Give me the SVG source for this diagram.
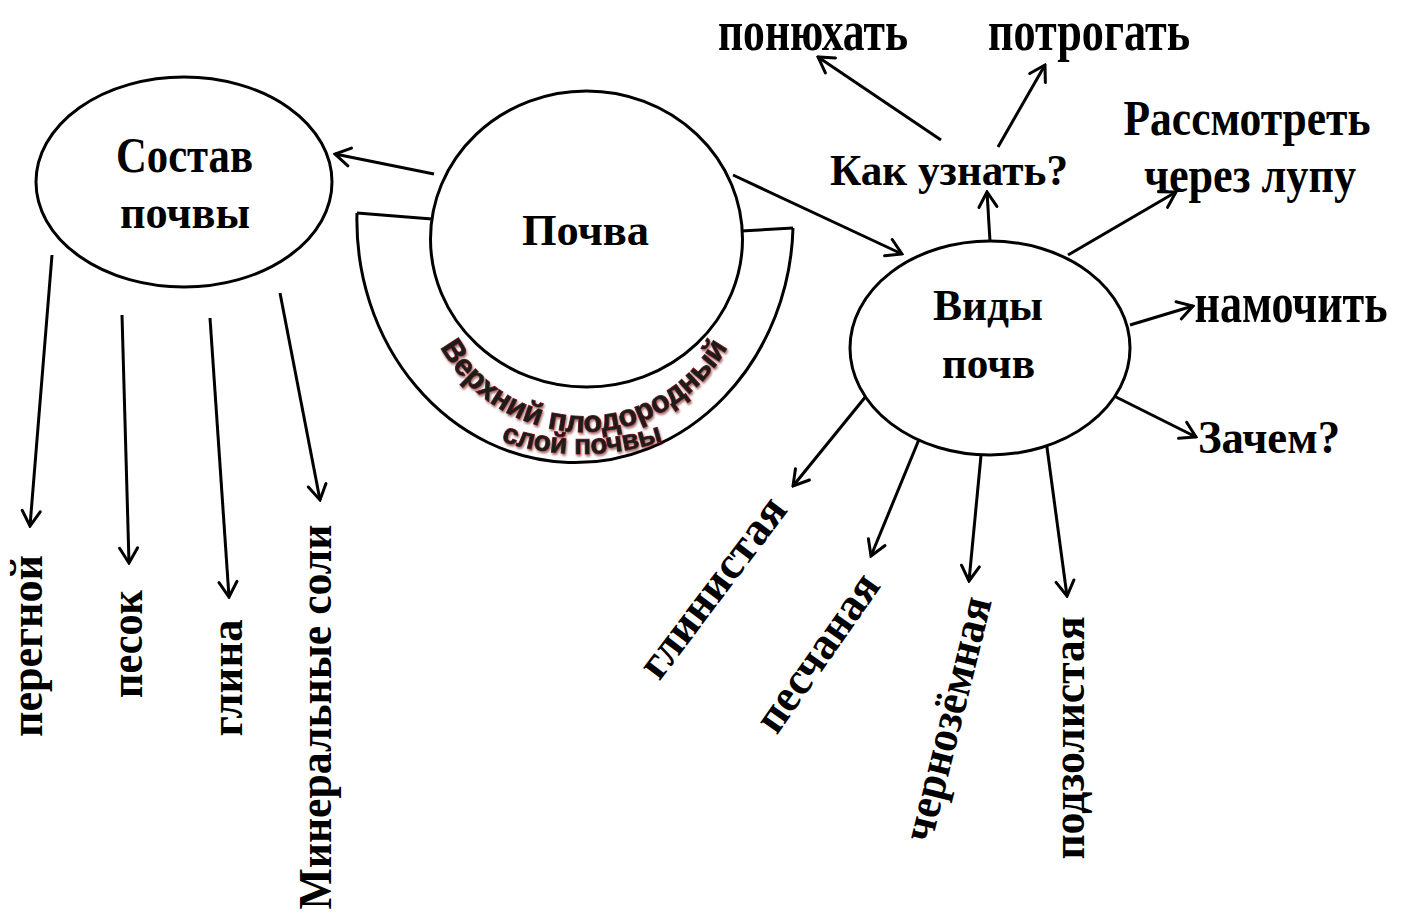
<svg xmlns="http://www.w3.org/2000/svg" width="1407" height="913" viewBox="0 0 1407 913">
<defs>
<style>
.ln{stroke:#000;stroke-width:3;fill:none;}
.ar{stroke:#000;stroke-width:3;fill:none;marker-end:url(#ah);}
.nd{stroke:#000;stroke-width:3;fill:#fff;}
.t{font-family:"Liberation Serif","Times New Roman",serif;font-weight:bold;fill:#000;text-anchor:middle;}
.w{font-family:"Liberation Sans",Arial,sans-serif;font-weight:bold;fill:#1e1e1e;stroke:#9a2020;stroke-width:1;paint-order:stroke;filter:url(#sh);}
</style>
<marker id="ah" viewBox="-18 -11 20 22" markerWidth="20" markerHeight="22" refX="0" refY="0" orient="auto" markerUnits="userSpaceOnUse">
<path d="M-15,-9 L0,0 L-15,9" fill="none" stroke="#000" stroke-width="3" stroke-linecap="round" stroke-linejoin="miter"/>
</marker>
<filter id="sh" x="-10%" y="-30%" width="120%" height="160%">
<feDropShadow dx="1" dy="2" stdDeviation="1.2" flood-color="#5a0000" flood-opacity="0.55"/>
</filter>
<path id="arc1" d="M420,268 A164,164 0 0 0 748,268"/>
<path id="arc2" d="M326,198 A256,256 0 0 0 838,198"/>
</defs>
<rect width="1407" height="913" fill="#fff"/>

<g id="connectors">
<line class="ar" x1="434" y1="174" x2="335" y2="154"/>
<line class="ar" x1="733" y1="175" x2="902" y2="254"/>
<line class="ar" x1="990" y1="241" x2="987" y2="192"/>
<line class="ar" x1="941" y1="140" x2="818" y2="57"/>
<line class="ar" x1="998" y1="147" x2="1045" y2="65"/>
<line class="ar" x1="1068" y1="255" x2="1176" y2="192"/>
<line class="ar" x1="1130" y1="325" x2="1193" y2="306"/>
<line class="ar" x1="1112" y1="395" x2="1196" y2="437"/>
<line class="ar" x1="871" y1="390" x2="793" y2="486"/>
<line class="ar" x1="920" y1="437" x2="871" y2="556"/>
<line class="ar" x1="982" y1="445" x2="969" y2="581"/>
<line class="ar" x1="1046" y1="440" x2="1067" y2="596"/>
<line class="ar" x1="52" y1="255" x2="30" y2="526"/>
<line class="ar" x1="122" y1="315" x2="129" y2="563"/>
<line class="ar" x1="210" y1="318" x2="229" y2="597"/>
<line class="ar" x1="280" y1="293" x2="320" y2="500"/>
</g>

<g id="layer">
<path class="ln" d="M357,213 A218,242 0 0 0 793,228"/>
<line class="ln" x1="357" y1="213" x2="432" y2="219"/>
<line class="ln" x1="741" y1="231" x2="793" y2="228"/>
<text class="w" font-size="30"><textPath href="#arc1" startOffset="50%" text-anchor="middle" textLength="350" lengthAdjust="spacingAndGlyphs">Верхний плодородный</textPath></text>
<text class="w" font-size="28"><textPath href="#arc2" startOffset="50%" text-anchor="middle" textLength="165" lengthAdjust="spacingAndGlyphs">слой почвы</textPath></text>
</g>

<g id="node-sostav">
<ellipse class="nd" cx="184" cy="182" rx="148" ry="105"/>
<text class="t" x="184.5" y="172" font-size="50" textLength="137" lengthAdjust="spacingAndGlyphs">Состав</text>
<text class="t" x="185" y="228" font-size="46" textLength="130" lengthAdjust="spacingAndGlyphs">почвы</text>
</g>

<g id="node-pochva">
<ellipse class="nd" cx="586.5" cy="239" rx="156" ry="148" fill="none"/>
<text class="t" x="585.5" y="245" font-size="44" textLength="127" lengthAdjust="spacingAndGlyphs">Почва</text>
</g>

<g id="node-vidy">
<ellipse class="nd" cx="990" cy="348" rx="140" ry="107"/>
<text class="t" x="988" y="320" font-size="44" textLength="110" lengthAdjust="spacingAndGlyphs">Виды</text>
<text class="t" x="988.5" y="378" font-size="44" textLength="93" lengthAdjust="spacingAndGlyphs">почв</text>
</g>

<g id="node-kak"><text class="t" x="949" y="185" font-size="45" textLength="238" lengthAdjust="spacingAndGlyphs">Как узнать?</text></g>
<g id="node-ponyuhat"><text class="t" x="813" y="50" font-size="58" textLength="190" lengthAdjust="spacingAndGlyphs">понюхать</text></g>
<g id="node-potrogat"><text class="t" x="1089" y="50" font-size="58" textLength="202" lengthAdjust="spacingAndGlyphs">потрогать</text></g>
<g id="node-rassmotret">
<text class="t" x="1247" y="135" font-size="50" textLength="247" lengthAdjust="spacingAndGlyphs">Рассмотреть</text>
<text class="t" x="1250" y="192" font-size="50" textLength="212" lengthAdjust="spacingAndGlyphs">через лупу</text>
</g>
<g id="node-namochit"><text class="t" x="1291" y="322" font-size="56" textLength="193" lengthAdjust="spacingAndGlyphs">намочить</text></g>
<g id="node-zachem"><text class="t" x="1269" y="453" font-size="47" textLength="142" lengthAdjust="spacingAndGlyphs">Зачем?</text></g>

<g id="node-peregnoy"><text class="t" transform="translate(32,646) rotate(-90)" x="0" y="10" font-size="46" textLength="182" lengthAdjust="spacingAndGlyphs">перегной</text></g>
<g id="node-pesok"><text class="t" transform="translate(132,644) rotate(-90)" x="0" y="10" font-size="46" textLength="108" lengthAdjust="spacingAndGlyphs">песок</text></g>
<g id="node-glina"><text class="t" transform="translate(232,678) rotate(-90)" x="0" y="10" font-size="46" textLength="117" lengthAdjust="spacingAndGlyphs">глина</text></g>
<g id="node-soli"><text class="t" transform="translate(321,717) rotate(-90)" x="0" y="10" font-size="46" textLength="385" lengthAdjust="spacingAndGlyphs">Минеральные соли</text></g>
<g id="node-glinistaya"><text class="t" transform="translate(716,590) rotate(-53)" x="0" y="10" font-size="46" textLength="215" lengthAdjust="spacingAndGlyphs">глинистая</text></g>
<g id="node-peschanaya"><text class="t" transform="translate(821,655) rotate(-55)" x="0" y="10" font-size="46" textLength="183" lengthAdjust="spacingAndGlyphs">песчаная</text></g>
<g id="node-chernozem"><text class="t" transform="translate(952,720) rotate(-76)" x="0" y="10" font-size="46" textLength="250" lengthAdjust="spacingAndGlyphs">чернозёмная</text></g>
<g id="node-podzol"><text class="t" transform="translate(1074,738) rotate(-90)" x="0" y="10" font-size="46" textLength="243" lengthAdjust="spacingAndGlyphs">подзолистая</text></g>
</svg>
